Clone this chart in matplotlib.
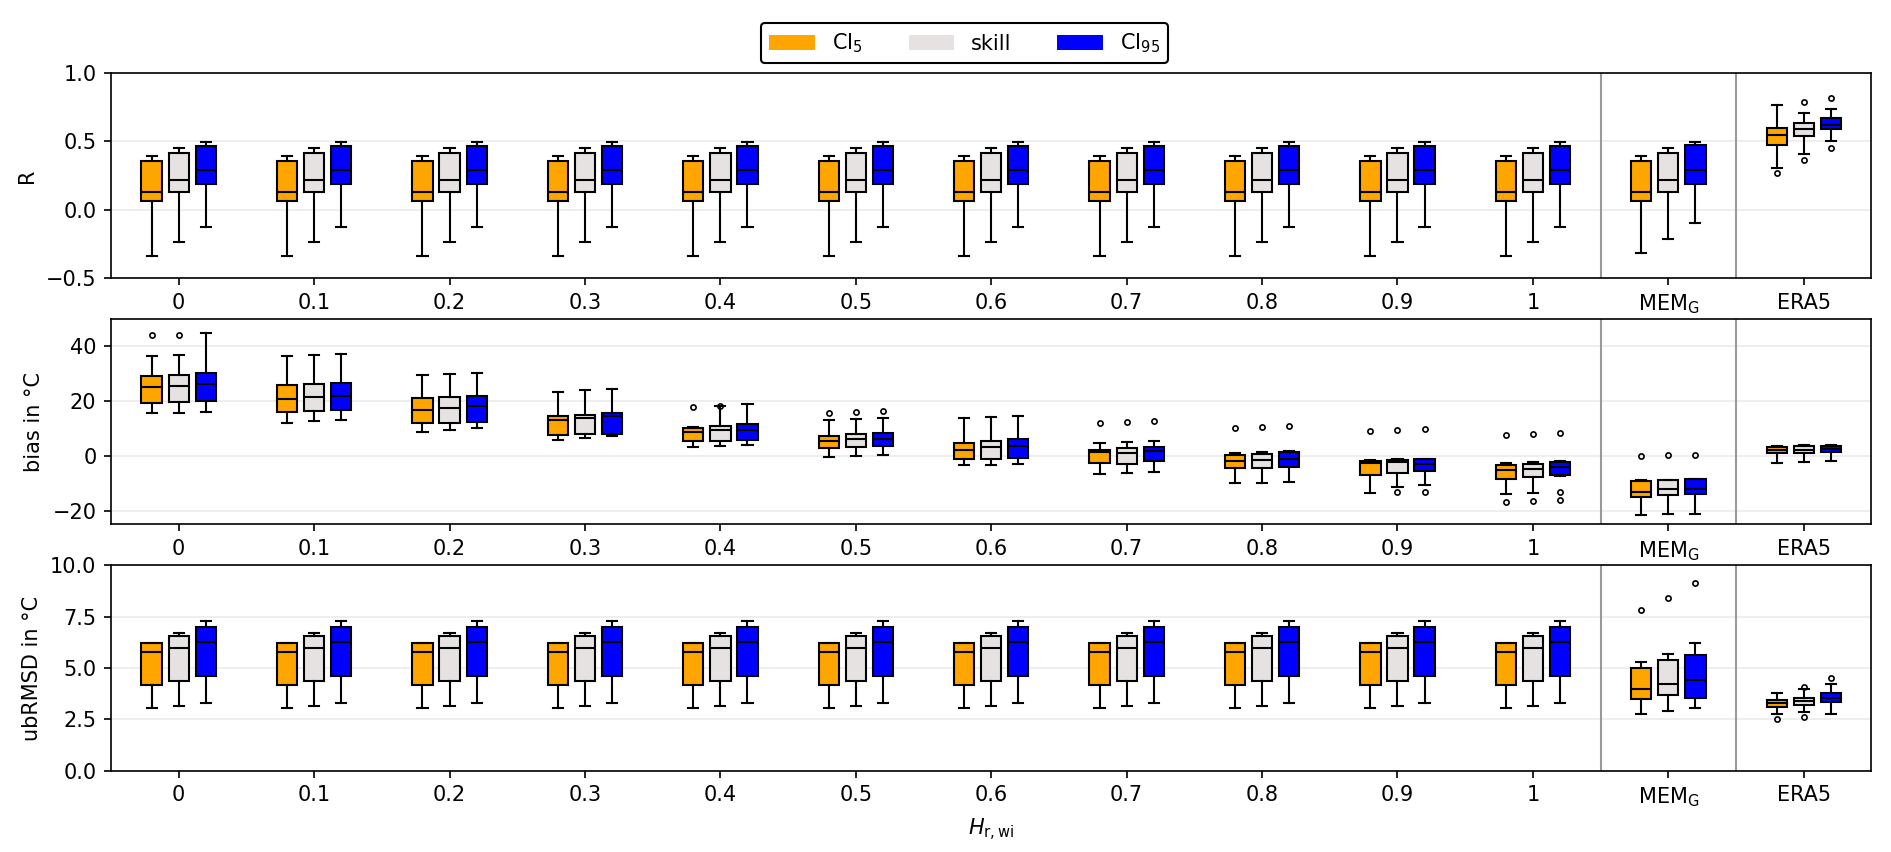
import numpy as np
import matplotlib
matplotlib.use('Agg')
from matplotlib import pyplot as plt
from matplotlib.patches import Patch

# groups on the x axis
groups = ['0', '0.1', '0.2', '0.3', '0.4', '0.5', '0.6', '0.7', '0.8', '0.9', '1',
          'MEM$_\\mathrm{G}$', 'ERA5']
series = ['CI$_5$', 'skill', 'CI$_{95}$']
colors = ['#FFA500', '#E6E2E2', '#0000FF']

# ---- R (groups 0..1 are identical) ----
r_ci5_lo = [-0.343] * 11 + [-0.318, 0.307]
r_ci5_q1 = [0.066] * 11 + [0.066, 0.470]
r_ci5_med = [0.130] * 11 + [0.128, 0.543]
r_ci5_q3 = [0.355] * 11 + [0.355, 0.594]
r_ci5_hi = [0.390] * 11 + [0.390, 0.762]
r_ci5_fl = [[]] * 12 + [[0.268]]

r_sk_lo = [-0.236] * 11 + [-0.214, 0.406]
r_sk_q1 = [0.127] * 11 + [0.127, 0.536]
r_sk_med = [0.214] * 11 + [0.213, 0.587]
r_sk_q3 = [0.410] * 11 + [0.415, 0.635]
r_sk_hi = [0.448] * 11 + [0.447, 0.704]
r_sk_fl = [[]] * 12 + [[0.788, 0.365]]

r_ci95_lo = [-0.126] * 11 + [-0.100, 0.500]
r_ci95_q1 = [0.185] * 11 + [0.183, 0.591]
r_ci95_med = [0.292] * 11 + [0.290, 0.620]
r_ci95_q3 = [0.467] * 11 + [0.470, 0.672]
r_ci95_hi = [0.496] * 11 + [0.495, 0.733]
r_ci95_fl = [[]] * 12 + [[0.815, 0.453]]

# ---- bias in degC ----
b_ci5_lo = [15.5, 12.2, 8.9, 5.8, 3.2, -0.4, -3.5, -6.5, -10.0, -13.5, -13.8, -21.7, -2.7]
b_ci5_q1 = [19.5, 16.1, 11.9, 7.6, 5.5, 3.0, -1.0, -2.5, -4.5, -6.9, -8.6, -15.0, 0.9]
b_ci5_med = [25.1, 20.7, 16.7, 13.1, 8.6, 5.3, 2.2, 1.5, -2.0, -2.5, -5.2, -13.0, 2.1]
b_ci5_q3 = [29.2, 26.0, 21.2, 14.5, 10.1, 7.3, 4.9, 2.3, 0.3, -1.8, -3.3, -9.1, 3.3]
b_ci5_hi = [36.6, 36.5, 29.7, 23.5, 10.6, 13.1, 13.7, 4.7, 0.9, -1.5, -2.6, -8.8, 3.6]
b_ci5_fl = [[44.0], [], [], [], [18.0], [15.8], [], [12.0], [10.3], [9.0], [7.8, -16.8], [0.0], []]

b_sk_lo = [15.8, 12.9, 9.6, 6.5, 3.6, 0.0, -3.3, -6.2, -10.0, -11.3, -13.5, -21.3, -2.4]
b_sk_q1 = [19.8, 16.4, 12.2, 7.9, 5.5, 3.4, -1.2, -2.8, -4.5, -6.1, -7.7, -14.2, 0.9]
b_sk_med = [25.7, 21.5, 17.5, 13.8, 9.3, 6.0, 3.3, 1.0, -1.5, -2.2, -4.8, -12.2, 2.2]
b_sk_q3 = [29.6, 26.3, 21.6, 14.9, 10.9, 8.0, 5.3, 2.9, 0.6, -1.5, -2.9, -8.9, 3.5]
b_sk_hi = [37.0, 36.9, 30.1, 23.9, 18.2, 13.5, 14.1, 5.0, 1.5, -1.0, -2.4, -8.7, 4.1]
b_sk_fl = [[44.3], [], [], [], [18.4], [16.1], [], [12.3], [10.7], [9.5, -13.3], [8.0, -16.5], [0.2], []]

b_ci95_lo = [15.9, 13.0, 10.3, 7.4, 4.0, 0.4, -3.0, -6.0, -9.5, -10.8, -7.5, -21.1, -1.9]
b_ci95_q1 = [20.0, 16.7, 12.5, 8.1, 5.7, 3.6, -0.8, -2.0, -4.0, -5.6, -7.0, -13.9, 1.4]
b_ci95_med = [26.2, 22.0, 18.2, 14.7, 9.5, 6.1, 3.8, 1.7, -1.0, -3.0, -4.2, -12.1, 2.4]
b_ci95_q3 = [30.4, 26.7, 22.0, 15.5, 11.6, 8.4, 6.0, 3.4, 1.5, -1.3, -2.4, -8.6, 3.6]
b_ci95_hi = [44.9, 37.2, 30.3, 24.3, 18.8, 13.8, 14.4, 5.3, 1.8, -1.0, -2.0, -8.5, 4.1]
b_ci95_fl = [[], [], [], [], [], [16.4], [], [12.6], [11.0], [9.7, -13.0], [8.3, -13.1, -16.1], [0.4], []]

# ---- ubRMSD in degC (groups 0..1 are identical) ----
u_ci5_lo = [3.04] * 11 + [2.75, 2.75]
u_ci5_q1 = [4.17] * 11 + [3.50, 3.10]
u_ci5_med = [5.78] * 11 + [4.00, 3.30]
u_ci5_q3 = [6.21] * 11 + [5.00, 3.45]
u_ci5_hi = [6.24] * 11 + [5.30, 3.80]
u_ci5_fl = [[]] * 11 + [[7.83], [2.50]]

u_sk_lo = [3.15] * 11 + [2.90, 2.85]
u_sk_q1 = [4.35] * 11 + [3.70, 3.20]
u_sk_med = [6.00] * 11 + [4.20, 3.40]
u_sk_q3 = [6.55] * 11 + [5.40, 3.55]
u_sk_hi = [6.72] * 11 + [5.67, 4.00]
u_sk_fl = [[]] * 11 + [[8.42], [4.10, 2.60]]

u_ci95_lo = [3.30] * 11 + [3.05, 2.75]
u_ci95_q1 = [4.60] * 11 + [3.55, 3.35]
u_ci95_med = [6.27] * 11 + [4.40, 3.55]
u_ci95_q3 = [6.98] * 11 + [5.64, 3.80]
u_ci95_hi = [7.30] * 11 + [6.20, 4.20]
u_ci95_fl = [[]] * 11 + [[9.12], [4.50]]

panels = [
    ('R', (-0.5, 1.0), [-0.5, 0.0, 0.5, 1.0],
     [(r_ci5_lo, r_ci5_q1, r_ci5_med, r_ci5_q3, r_ci5_hi, r_ci5_fl),
      (r_sk_lo, r_sk_q1, r_sk_med, r_sk_q3, r_sk_hi, r_sk_fl),
      (r_ci95_lo, r_ci95_q1, r_ci95_med, r_ci95_q3, r_ci95_hi, r_ci95_fl)]),
    ('bias in °C', (-25, 50), [-20, 0, 20, 40],
     [(b_ci5_lo, b_ci5_q1, b_ci5_med, b_ci5_q3, b_ci5_hi, b_ci5_fl),
      (b_sk_lo, b_sk_q1, b_sk_med, b_sk_q3, b_sk_hi, b_sk_fl),
      (b_ci95_lo, b_ci95_q1, b_ci95_med, b_ci95_q3, b_ci95_hi, b_ci95_fl)]),
    ('ubRMSD in °C', (0, 10), [0.0, 2.5, 5.0, 7.5, 10.0],
     [(u_ci5_lo, u_ci5_q1, u_ci5_med, u_ci5_q3, u_ci5_hi, u_ci5_fl),
      (u_sk_lo, u_sk_q1, u_sk_med, u_sk_q3, u_sk_hi, u_sk_fl),
      (u_ci95_lo, u_ci95_q1, u_ci95_med, u_ci95_q3, u_ci95_hi, u_ci95_fl)]),
]

offsets = [-0.2, 0.0, 0.2]
width = 0.15
xpos = np.arange(len(groups))

fig, axes = plt.subplots(3, 1, figsize=(12.61, 5.68), dpi=150)
fig.subplots_adjust(left=0.0587, right=0.9894, top=0.9147, bottom=0.0954, hspace=0.2)

for ax, (ylabel, ylim, yticks, data) in zip(axes, panels):
    for k, (lo, q1, med, q3, hi, fl) in enumerate(data):
        stats = []
        for i in range(len(groups)):
            stats.append(dict(whislo=lo[i], q1=q1[i], med=med[i], q3=q3[i],
                              whishi=hi[i], fliers=fl[i]))
        ax.bxp(stats, positions=xpos + offsets[k], widths=width, patch_artist=True,
               showfliers=True, manage_ticks=False,
               boxprops=dict(facecolor=colors[k], edgecolor='black', linewidth=1.0),
               medianprops=dict(color='black', linewidth=1.0),
               whiskerprops=dict(color='black', linewidth=1.0),
               capprops=dict(color='black', linewidth=1.0),
               flierprops=dict(marker='o', markersize=2.5, markerfacecolor='none',
                               markeredgecolor='black', markeredgewidth=0.8),
               zorder=3)
    ax.axvline(10.5, color='#999999', linewidth=1.0, zorder=2)
    ax.axvline(11.5, color='#999999', linewidth=1.0, zorder=2)
    ax.set_xlim(-0.5, 12.5)
    ax.set_ylim(*ylim)
    ax.set_yticks(yticks)
    ax.set_xticks(xpos)
    ax.set_xticklabels(groups)
    ax.yaxis.grid(True, color='#EBEBEB', linewidth=0.8, zorder=0)
    ax.set_axisbelow(True)
    ax.set_ylabel(ylabel)

axes[2].set_xlabel('$H_{\\mathrm{r,wi}}$')

handles = [Patch(facecolor=c, edgecolor='none', label=s) for c, s in zip(colors, series)]
fig.legend(handles=handles, loc='upper center', bbox_to_anchor=(0.51, 0.985), ncol=3,
           handlelength=2.2, columnspacing=2.2, framealpha=1.0, edgecolor='black')

fig.savefig('out.png', dpi=150)
